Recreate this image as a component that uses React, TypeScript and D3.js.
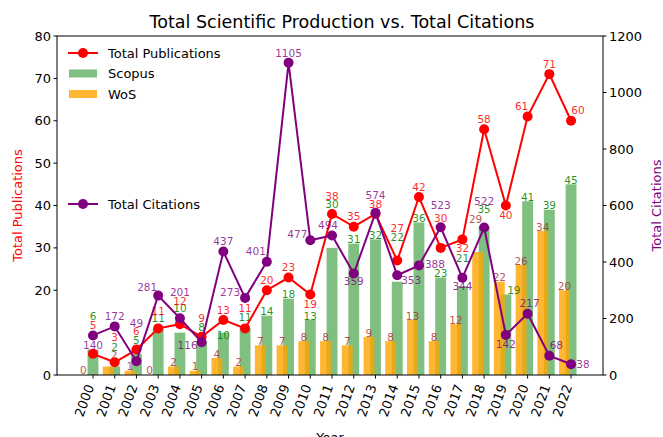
import * as d3 from 'd3';

const years = d3.range(2000, 2023);
const totalPubs = [5, 3, 6, 11, 12, 9, 13, 11, 20, 23, 19, 38, 35, 38, 27, 42, 30, 32, 58, 40, 61, 71, 60];
const scopus = [6, 2, 5, 11, 10, 8, 10, 11, 14, 18, 13, 30, 31, 32, 22, 36, 23, 21, 35, 19, 41, 39, 45];
const wos = [0, 2, 1, 0, 2, 1, 4, 2, 7, 7, 8, 8, 7, 9, 8, 13, 8, 12, 29, 22, 26, 34, 20];
const citations = [140, 172, 49, 281, 201, 116, 437, 273, 401, 1105, 477, 494, 359, 574, 353, 388, 523, 344, 522, 142, 217, 68, 38];

const leftTicks = [0, 20, 30, 40, 50, 60, 70, 80];
const rightTicks = [0, 200, 400, 600, 800, 1000, 1200];

// label nudges (dx, dy in px) where labels were pushed apart in the original
const pubNudge: Record<number, [number, number]> = {
  2000: [0, -28], 2001: [0, -25], 2002: [0, -18], 2003: [0, -17], 2004: [0, -23],
  2005: [0, -19], 2007: [0, -20], 2010: [0, 10], 2011: [0, -18], 2014: [0, -32],
  2016: [0, -30], 2017: [0, 9], 2019: [0, 10], 2020: [-6, -10], 2022: [7, -10],
};
const citeNudge: Record<number, [number, number]> = {
  2000: [0, 10], 2002: [0, -38], 2003: [-11, -8], 2004: [0, -26], 2005: [-14, 3],
  2007: [-15, -6], 2008: [-11, -10], 2010: [-13, -6], 2011: [-4, -10], 2012: [0, 8],
  2013: [0, -18], 2014: [14, 5], 2015: [16, -1], 2016: [0, -22], 2017: [0, 9],
  2018: [0, -26], 2019: [0, 9], 2020: [2, -10], 2021: [7, -10], 2022: [12, 0],
};
const scopusNudge: Record<number, [number, number]> = {
  2000: [0, -33], 2001: [0, -19], 2002: [0, -13], 2003: [0, -10], 2004: [0, -24],
  2005: [0, -14], 2006: [0, 3], 2007: [0, -11], 2011: [0, -44], 2014: [0, -44],
  2017: [0, -28], 2018: [0, -17], 2019: [8, -4],
};
const wosNudge: Record<number, [number, number]> = {
  2000: [-3, -5], 2001: [6, -11], 2003: [-2, -5], 2018: [-2, -33],
};

const W = 663;
const H = 437;
const plot = { left: 57, right: 603, top: 36, bottom: 375 };
const font = 'DejaVu Sans, sans-serif';

export default function App() {
  const x = d3.scaleLinear().domain([-1.656, 23.47]).range([plot.left, plot.right]);
  const yL = d3.scaleLinear().domain([0, 80]).range([plot.bottom, plot.top]);
  const yR = d3.scaleLinear().domain([0, 1200]).range([plot.bottom, plot.top]);
  const barW = x(0.5) - x(0);
  const wosOff = x(-0.3) - x(0);

  const pubLine = d3.line<number>().x((_, i) => x(i)).y(d => yL(d));
  const citeLine = d3.line<number>().x((_, i) => x(i)).y(d => yR(d));

  const nud = (m: Record<number, [number, number]>, yr: number, def: [number, number]) => m[yr] ?? def;

  return (
    <svg width={W} height={H} style={{ position: 'absolute', left: 0, top: 0, background: '#fff' }} fontFamily={font}>
      <text x={342} y={28} textAnchor="middle" fontSize={17.5} fill="#000">
        Total Scientific Production vs. Total Citations
      </text>

      {/* bars */}
      {scopus.map((v, i) => (
        <rect key={'s' + i} x={x(i) - barW / 2} y={yL(v)} width={barW} height={yL(0) - yL(v)} fill="green" fillOpacity={0.5} />
      ))}
      {wos.map((v, i) => (
        <rect key={'w' + i} x={x(i) + wosOff - barW / 2} y={yL(v)} width={barW} height={yL(0) - yL(v)} fill="orange" fillOpacity={0.8} />
      ))}

      {/* bar labels */}
      {scopus.map((v, i) => {
        const [dx, dy] = nud(scopusNudge, years[i], [0, -4]);
        return (
          <text key={'sl' + i} x={x(i) + dx} y={yL(v) + dy} dy="0.35em" textAnchor="middle" fontSize={10.5} fill="green" fillOpacity={0.85}>{v}</text>
        );
      })}
      {wos.map((v, i) => {
        const [dx, dy] = nud(wosNudge, years[i], [0, -4]);
        return (
          <text key={'wl' + i} x={x(i) + wosOff + dx} y={yL(v) + dy} dy="0.35em" textAnchor="middle" fontSize={10.5} fill="brown" fillOpacity={0.8}>{v}</text>
        );
      })}

      {/* total publications */}
      <path d={pubLine(totalPubs) ?? ''} fill="none" stroke="red" strokeWidth={2} />
      {totalPubs.map((v, i) => (
        <circle key={'p' + i} cx={x(i)} cy={yL(v)} r={5} fill="red" />
      ))}
      {totalPubs.map((v, i) => {
        const [dx, dy] = nud(pubNudge, years[i], [0, -10]);
        return (
          <text key={'pl' + i} x={x(i) + dx} y={yL(v) + dy} dy="0.35em" textAnchor="middle" fontSize={10.5} fill="red" fillOpacity={0.85}>{v}</text>
        );
      })}

      {/* total citations */}
      <path d={citeLine(citations) ?? ''} fill="none" stroke="purple" strokeWidth={2} />
      {citations.map((v, i) => (
        <circle key={'c' + i} cx={x(i)} cy={yR(v)} r={5} fill="purple" />
      ))}
      {citations.map((v, i) => {
        const [dx, dy] = nud(citeNudge, years[i], [0, -10]);
        return (
          <text key={'cl' + i} x={x(i) + dx} y={yR(v) + dy} dy="0.35em" textAnchor="middle" fontSize={10.5} fill="purple" fillOpacity={0.8}>{v}</text>
        );
      })}

      {/* frame */}
      <rect x={plot.left} y={plot.top} width={plot.right - plot.left} height={plot.bottom - plot.top} fill="none" stroke="#000" strokeWidth={1} />

      {/* left axis */}
      {leftTicks.map(t => (
        <g key={'lt' + t}>
          <line x1={plot.left - 3.5} x2={plot.left} y1={yL(t)} y2={yL(t)} stroke="#000" />
          <text x={plot.left - 6} y={yL(t)} dy="0.35em" textAnchor="end" fontSize={13} fill="#000">{t}</text>
        </g>
      ))}
      <text transform={`translate(17,${(plot.top + plot.bottom) / 2}) rotate(-90)`} textAnchor="middle" dy="0.35em" fontSize={13} fill="red">
        Total Publications
      </text>

      {/* right axis */}
      {rightTicks.map(t => (
        <g key={'rt' + t}>
          <line x1={plot.right} x2={plot.right + 3.5} y1={yR(t)} y2={yR(t)} stroke="#000" />
          <text x={plot.right + 6} y={yR(t)} dy="0.35em" textAnchor="start" fontSize={13} fill="#000">{t}</text>
        </g>
      ))}
      <text transform={`translate(656,${(plot.top + plot.bottom) / 2}) rotate(-90)`} textAnchor="middle" dy="0.35em" fontSize={13} fill="purple">
        Total Citations
      </text>

      {/* x axis */}
      {years.map((yr, i) => (
        <g key={'xt' + yr}>
          <line x1={x(i)} x2={x(i)} y1={plot.bottom} y2={plot.bottom + 3.5} stroke="#000" />
          <text transform={`translate(${x(i) - 3},${plot.bottom + 10}) rotate(-70)`} textAnchor="end" dy="0.35em" fontSize={13} fill="#000">{yr}</text>
        </g>
      ))}
      <text x={(plot.left + plot.right) / 2} y={442} textAnchor="middle" fontSize={13} fill="#000">Year</text>

      {/* legends */}
      <g fontSize={13} fill="#000">
        <line x1={68} x2={98} y1={53} y2={53} stroke="red" strokeWidth={2} />
        <circle cx={83} cy={53} r={5} fill="red" />
        <text x={108} y={53} dy="0.35em">Total Publications</text>
        <rect x={69} y={69.5} width={28} height={8} fill="green" fillOpacity={0.5} />
        <text x={108} y={73.5} dy="0.35em">Scopus</text>
        <rect x={69} y={90} width={28} height={8} fill="orange" fillOpacity={0.8} />
        <text x={108} y={94} dy="0.35em">WoS</text>

        <line x1={68} x2={98} y1={204} y2={204} stroke="purple" strokeWidth={2} />
        <circle cx={83} cy={204} r={5} fill="purple" />
        <text x={108} y={204} dy="0.35em">Total Citations</text>
      </g>
    </svg>
  );
}
